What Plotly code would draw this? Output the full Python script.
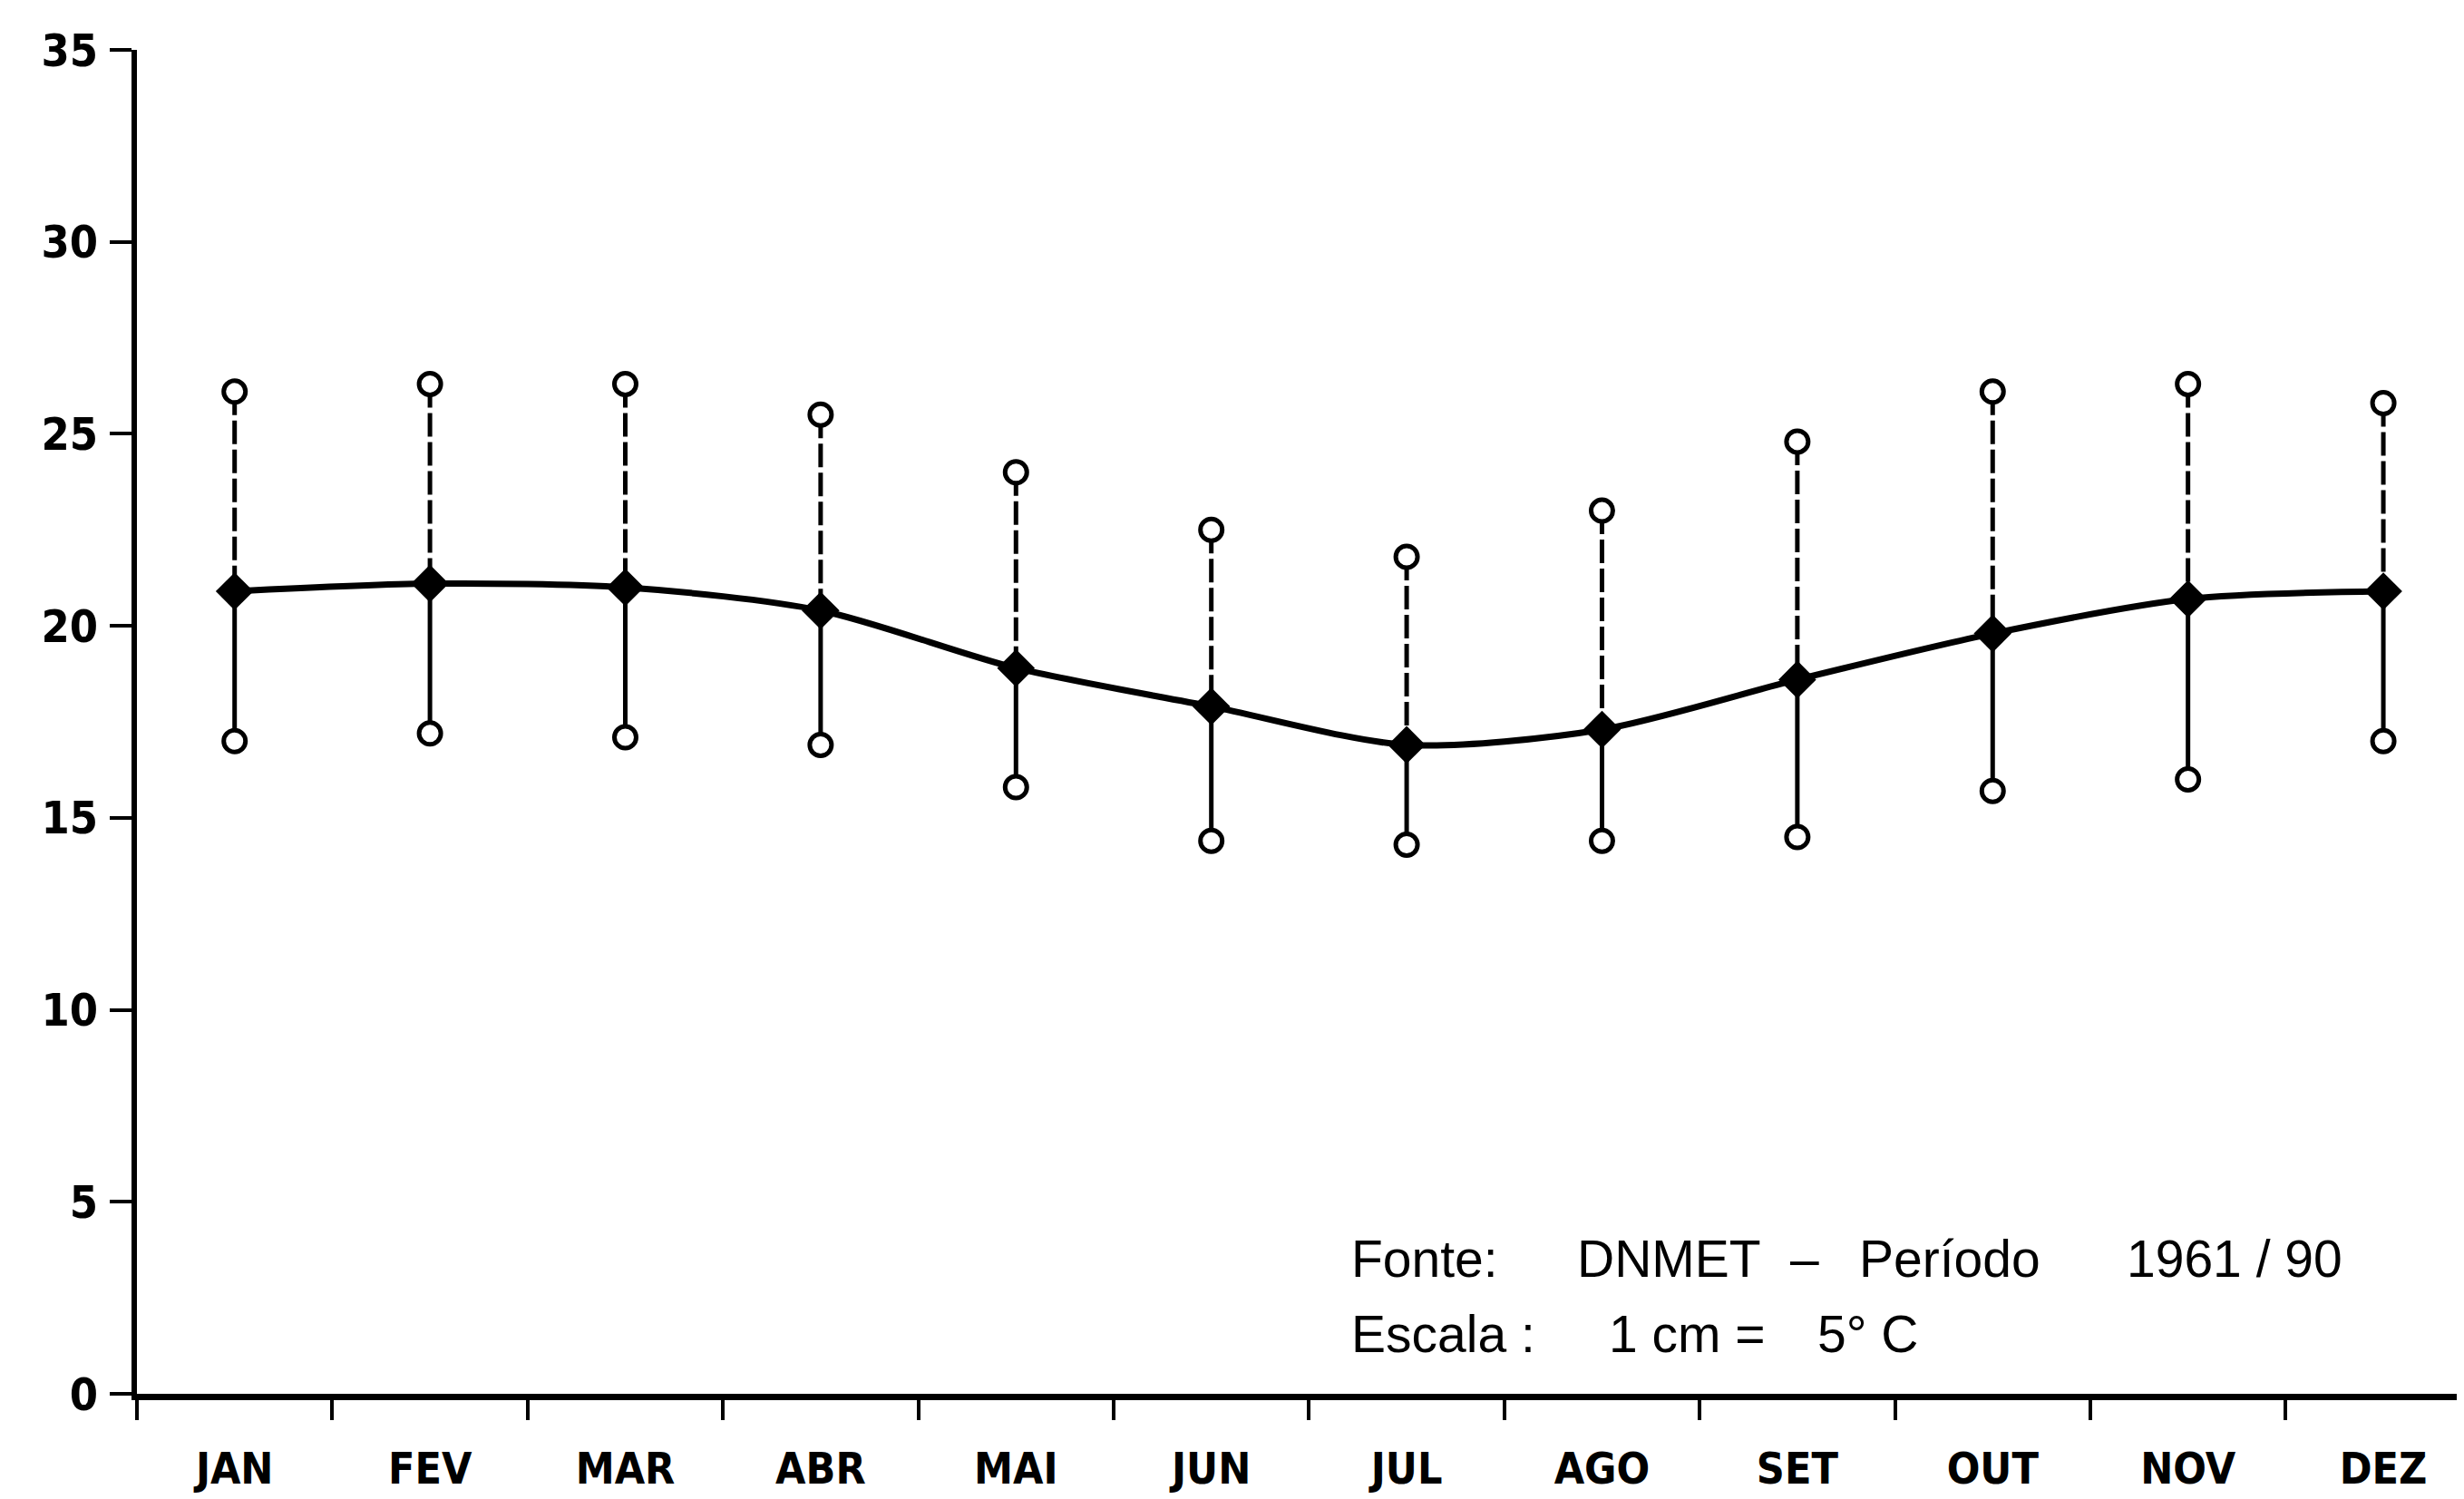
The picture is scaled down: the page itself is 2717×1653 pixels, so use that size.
import plotly.graph_objects as go

months = ["JAN", "FEV", "MAR", "ABR", "MAI", "JUN", "JUL", "AGO", "SET", "OUT", "NOV", "DEZ"]
t_max = [26.1, 26.3, 26.3, 25.5, 24.0, 22.5, 21.8, 23.0, 24.8, 26.1, 26.3, 25.8]
t_mean = [20.9, 21.1, 21.0, 20.4, 18.9, 17.9, 16.9, 17.3, 18.6, 19.8, 20.7, 20.9]
t_min = [17.0, 17.2, 17.1, 16.9, 15.8, 14.4, 14.3, 14.4, 14.5, 15.7, 16.0, 17.0]
y_ticks = [0, 5, 10, 15, 20, 25, 30, 35]

label_font = "Liberation Sans Narrow, DejaVu Sans Condensed, Liberation Sans, DejaVu Sans"
note_family = "Liberation Sans, Arimo, DejaVu Sans"

# whisker segments
up_x, up_y, lo_x, lo_y = [], [], [], []
for m, hi, me, lo in zip(months, t_max, t_mean, t_min):
    up_x += [m, m, None]
    up_y += [hi, me, None]
    lo_x += [m, m, None]
    lo_y += [me, lo, None]

fig = go.Figure()
fig.add_trace(go.Scatter(x=up_x, y=up_y, mode="lines",
                         line=dict(color="black", width=5, dash="26px,6px"),
                         hoverinfo="skip", showlegend=False))
fig.add_trace(go.Scatter(x=lo_x, y=lo_y, mode="lines",
                         line=dict(color="black", width=5),
                         hoverinfo="skip", showlegend=False))
fig.add_trace(go.Scatter(x=months, y=t_mean, mode="lines+markers",
                         line=dict(color="black", width=7, shape="spline", smoothing=0.8),
                         marker=dict(symbol="diamond", size=32, color="black"),
                         showlegend=False, name="Média"))
fig.add_trace(go.Scatter(x=months, y=t_max, mode="markers",
                         marker=dict(symbol="circle", size=24, color="white",
                                     line=dict(color="black", width=5)),
                         showlegend=False, name="Máxima"))
fig.add_trace(go.Scatter(x=months, y=t_min, mode="markers",
                         marker=dict(symbol="circle", size=24, color="white",
                                     line=dict(color="black", width=5)),
                         showlegend=False, name="Mínima"))

note_font = dict(family=note_family, size=57, color="black")
notes = [
    (5.71, 3.52, "Fonte:"), (6.87, 3.52, "DNMET"), (7.96, 3.52, "–"),
    (8.31, 3.52, "Período"), (9.68, 3.52, "1961 / 90"),
    (5.71, 1.55, "Escala :"), (7.03, 1.55, "1 cm ="), (8.10, 1.55, "5° C"),
]
for nx, ny, txt in notes:
    fig.add_annotation(x=nx, y=ny, xref="x", yref="y", xanchor="left", yanchor="middle",
                       text=txt, showarrow=False, font=note_font, borderpad=0)

fig.update_layout(
    width=2717, height=1653,
    margin=dict(l=143, r=0, t=47, b=124),
    plot_bgcolor="white", paper_bgcolor="white",
    xaxis=dict(type="category", categoryorder="array", categoryarray=months,
               range=[-0.5, 11.45], tickson="boundaries",
               showline=True, linecolor="black", linewidth=7,
               ticks="outside", ticklen=22, tickwidth=4, tickcolor="black",
               showgrid=False, zeroline=False, ticklabelstandoff=34,
               tickfont=dict(family=label_font, size=48, color="black", weight="bold")),
    yaxis=dict(range=[0, 35], tickvals=y_ticks, ticktext=[str(v) for v in y_ticks],
               showline=True, linecolor="black", linewidth=6,
               ticks="outside", ticklen=24, tickwidth=4, tickcolor="black",
               showgrid=False, zeroline=False, ticklabelstandoff=3,
               tickfont=dict(family=label_font, size=50, color="black", weight="bold")),
)

fig.write_html("out.html")
